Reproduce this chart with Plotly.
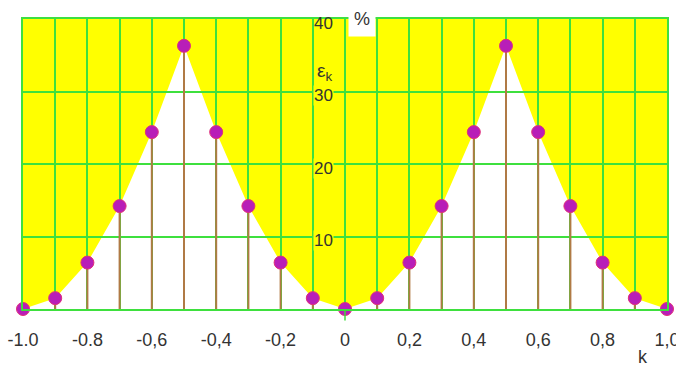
import plotly.graph_objects as go

# Harmonic index k and error values eps_k (%)
k_values = [-1.0, -0.9, -0.8, -0.7, -0.6, -0.5, -0.4, -0.3, -0.2, -0.1, 0.0,
            0.1, 0.2, 0.3, 0.4, 0.5, 0.6, 0.7, 0.8, 0.9, 1.0]
eps_values = [0.0, 1.5, 6.4, 14.2, 24.4, 36.3, 24.4, 14.2, 6.4, 1.5, 0.0,
              1.5, 6.4, 14.2, 24.4, 36.3, 24.4, 14.2, 6.4, 1.5, 0.0]

x_tick_vals = [-1.0, -0.8, -0.6, -0.4, -0.2, 0.0, 0.2, 0.4, 0.6, 0.8, 1.0]
x_tick_text = ["-1.0", "-0.8", "-0,6", "-0,4", "-0,2", "0", "0,2", "0,4", "0,6", "0,8", "1,0"]
y_tick_vals = [10, 20, 30, 40]
y_tick_text = ["10", "20", "30", "40"]

YELLOW = "#ffff00"
GRID = "#3ee03e"
STEM = "#b07a45"
DOT = "#b81eb8"
FONT = "Liberation Sans Narrow, Arial Narrow, Liberation Sans, Arial, sans-serif"

fig = go.Figure()

# stems from the baseline up to each value
stem_x, stem_y = [], []
for kx, ey in zip(k_values, eps_values):
    stem_x += [kx, kx, None]
    stem_y += [0, ey, None]
fig.add_trace(go.Scatter(x=stem_x, y=stem_y, mode="lines",
                         line=dict(color=STEM, width=2), hoverinfo="skip",
                         showlegend=False))

# value markers
fig.add_trace(go.Scatter(x=k_values, y=eps_values, mode="markers",
                         marker=dict(size=13, color=DOT,
                                     line=dict(color="#e0307a", width=1)),
                         cliponaxis=False, showlegend=False))

# white region under the envelope, kept below the grid
path = "M {},0 ".format(k_values[0])
path += " ".join("L {},{}".format(kx, ey) for kx, ey in zip(k_values, eps_values))
path += " L {},0 Z".format(k_values[-1])
shapes = [dict(type="path", path=path, xref="x", yref="y", layer="below",
               fillcolor="white", line=dict(width=0))]
# short tick below the axis at k = 0
shapes.append(dict(type="line", xref="x", yref="paper", x0=0, x1=0, y0=0, y1=-0.04,
                   line=dict(color=GRID, width=1.5)))

annotations = []
for v, t in zip(y_tick_vals, y_tick_text):
    annotations.append(dict(x=0, y=v, xref="x", yref="y", text=t, showarrow=False,
                            xanchor="right", yanchor="middle", xshift=-11, yshift=-4,
                            bgcolor=YELLOW if v < 40 else "rgba(0,0,0,0)",
                            borderpad=0,
                            font=dict(family=FONT, size=17, color="#333333")))
annotations.append(dict(x=0, y=0.817, xref="x", yref="paper",
                        text="ε<sub>k</sub>", showarrow=False,
                        xanchor="right", yanchor="middle", xshift=-11,
                        font=dict(family=FONT, size=19, color="#333333")))
annotations.append(dict(x=0, y=1, xref="x", yref="paper", text="%", showarrow=False,
                        xanchor="left", yanchor="top", xshift=3, yshift=19,
                        width=26, height=35, bgcolor="white", borderpad=0,
                        font=dict(family=FONT, size=18, color="#333333")))
annotations.append(dict(x=0.963, y=-0.165, xref="paper", yref="paper", text="k",
                        showarrow=False, xanchor="center", yanchor="middle",
                        font=dict(family=FONT, size=18, color="#333333")))

fig.update_layout(
    width=676, height=367,
    margin=dict(l=23, r=9, t=19, b=58, autoexpand=False),
    paper_bgcolor="white", plot_bgcolor=YELLOW,
    shapes=shapes, annotations=annotations,
    xaxis=dict(range=[-1, 1], showgrid=True, gridcolor=GRID, automargin=False,
               gridwidth=1.5, zeroline=False, showline=True, linecolor=GRID,
               linewidth=1.5, mirror=True, tickmode="array",
               tickvals=x_tick_vals, ticktext=x_tick_text,
               minor=dict(tickmode="array", tickvals=k_values, showgrid=True,
                          gridcolor=GRID, gridwidth=1.5, ticks=""),
               ticks="", ticklabelstandoff=14, ticklabeloverflow="allow",
               tickfont=dict(family=FONT, size=18, color="#333333")),
    yaxis=dict(range=[0, 40], tickvals=y_tick_vals, showticklabels=False,
               automargin=False,
               showgrid=True, gridcolor=GRID, gridwidth=1.5, zeroline=False,
               showline=True, linecolor=GRID, linewidth=1.5, mirror=True),
)

fig.write_html("out.html")
